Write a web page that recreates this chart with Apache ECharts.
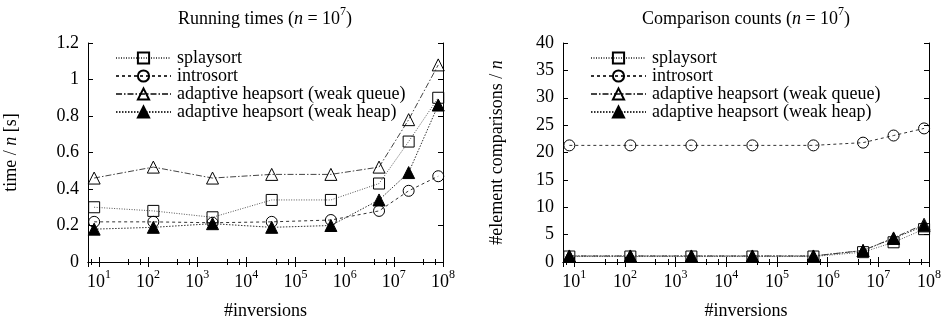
<!DOCTYPE html>
<html>
<head>
<meta charset="utf-8">
<script src="https://cdn.jsdelivr.net/npm/echarts@6/dist/echarts.min.js"></script>
<style>
html,body{margin:0;padding:0;background:#fff;}
#c{width:951px;height:325px;}
</style>
</head>
<body>
<div id="c"></div>
<script>
// ---- data ----
var inversions = [8, 128, 2048, 32768, 524288, 5000000, 20000000, 80000000];
var seriesNames = ['splaysort', 'introsort', 'adaptive heapsort (weak queue)', 'adaptive heapsort (weak heap)'];
// Running times: time / n [s]
var timeSplay   = [0.30, 0.28, 0.245, 0.34, 0.34, 0.43, 0.66, 0.90];
var timeIntro   = [0.22, 0.22, 0.215, 0.22, 0.23, 0.28, 0.39, 0.47];
var timeWQueue  = [0.46, 0.52, 0.46, 0.48, 0.48, 0.52, 0.78, 1.08];
var timeWHeap   = [0.18, 0.19, 0.21, 0.19, 0.20, 0.34, 0.49, 0.86];
// Comparison counts: #element comparisons / n
var cmpSplay    = [1.0, 1.0, 1.0, 1.0, 1.0, 1.8, 3.6, 6.0];
var cmpIntro    = [21.3, 21.3, 21.3, 21.3, 21.3, 21.8, 23.1, 24.4];
var cmpWQueue   = [1.1, 1.1, 1.1, 1.1, 1.1, 2.1, 4.4, 6.9];
var cmpWHeap    = [1.1, 1.1, 1.1, 1.1, 1.1, 2.1, 4.3, 6.6];
var yTicksTime  = [0, 0.2, 0.4, 0.6, 0.8, 1.0, 1.2];
var yTicksCmp   = [0, 5, 10, 15, 20, 25, 30, 35, 40];

var FONT = '"Liberation Serif", "Times New Roman", "DejaVu Serif", serif';

function pairs(ys) { return inversions.map(function (x, i) { return [x, ys[i]]; }); }

var supRich = {
  b: { fontSize: 18, fontFamily: FONT, fontWeight: 'normal', color: '#000', lineHeight: 18, verticalAlign: 'bottom' },
  s: { fontSize: 12, fontFamily: FONT, fontWeight: 'normal', color: '#000', verticalAlign: 'top', padding: [0, 0, 10, 0] },
  i: { fontSize: 18, fontFamily: FONT, fontWeight: 'normal', color: '#000', fontStyle: 'italic', lineHeight: 18, verticalAlign: 'bottom' }
};

function logFmt(v) {
  var l = Math.log10(v);
  var e = Math.round(l);
  if (Math.abs(l - e) > 1e-6) return '';
  return '{b|10}{s|' + e + '}';
}

var styles = [
  { symbol: 'rect', size: 11, fill: 'rgba(255,255,255,0)', dash: [1, 1.5], color: '#555' },
  { symbol: 'circle', size: 11, fill: 'rgba(255,255,255,0)', dash: [3, 3], color: '#333' },
  { symbol: 'triangle', size: 12, fill: 'rgba(255,255,255,0)', dash: [6, 2, 1.5, 2], color: '#444' },
  { symbol: 'triangle', size: 12, fill: '#000', dash: [1.5, 1.5], color: '#333' }
];

function mkXAxis(gi, top) {
  return {
    type: 'log', gridIndex: gi, min: 6, max: 1e8, logBase: 10, splitNumber: 8,
    position: top ? 'top' : 'bottom',
    axisLine: { show: true, lineStyle: { color: '#000', width: 1 } },
    axisTick: { show: true, inside: true, length: 5, lineStyle: { color: '#000' } },
    minorTick: { show: true, splitNumber: 3, length: 3, lineStyle: { color: '#000' } },
    splitLine: { show: false },
    axisLabel: top ? { show: false } : { show: true, margin: 7, formatter: logFmt, rich: supRich },
    name: top ? '' : '#inversions',
    nameLocation: 'middle', nameGap: 40,
    nameTextStyle: { fontSize: 18, fontFamily: FONT, color: '#000' }
  };
}

function mkYAxis(gi, right, ticks, name, gap) {
  return {
    type: 'value', gridIndex: gi, min: ticks[0], max: ticks[ticks.length - 1],
    interval: ticks[1] - ticks[0],
    position: right ? 'right' : 'left',
    axisLine: { show: true, lineStyle: { color: '#000', width: 1 } },
    axisTick: { show: true, inside: true, length: 5, lineStyle: { color: '#000' } },
    splitLine: { show: false },
    axisLabel: right ? { show: false } : {
      show: true, margin: 9, fontSize: 18, fontFamily: FONT, color: '#000',
      formatter: function (v) { return String(Math.round(v * 100) / 100); }
    },
    name: right ? '' : name,
    nameLocation: 'middle', nameGap: gap,
    nameTextStyle: { fontSize: 18, fontFamily: FONT, color: '#000', rich: supRich }
  };
}

function mkSeries(gi, arrs) {
  return arrs.map(function (ys, k) {
    var st = styles[k];
    return {
      type: 'line', name: seriesNames[k],
      xAxisIndex: gi * 2, yAxisIndex: gi * 2,
      data: pairs(ys),
      symbol: st.symbol, symbolSize: st.size, showAllSymbol: true,
      lineStyle: { color: st.color, width: 1, type: st.dash },
      itemStyle: { color: st.fill, borderColor: '#000', borderWidth: 1 },
      emphasis: { disabled: true },
      animation: false, z: 2 + k
    };
  });
}

function mkLegend(left) {
  return {
    orient: 'vertical', left: left, top: 44, itemWidth: 55, itemHeight: 14, itemGap: 0,
    data: seriesNames, selectedMode: false,
    textStyle: { fontSize: 18, fontFamily: FONT, color: '#000', lineHeight: 17, padding: [0, 0, 0, 1] }
  };
}

var chart = echarts.init(document.getElementById('c'), null, { renderer: 'canvas' });
chart.setOption({
  animation: false,
  backgroundColor: '#fff',
  title: [
    { text: '{b|Running times (}{i|n}{b| = 10}{s|7}{b|)}', left: 265, top: 6, textAlign: 'center', padding: 0,
      textStyle: { fontWeight: 'normal', rich: supRich } },
    { text: '{b|Comparison counts (}{i|n}{b| = 10}{s|7}{b|)}', left: 746, top: 6, textAlign: 'center', padding: 0,
      textStyle: { fontWeight: 'normal', rich: supRich } }
  ],
  grid: [
    { left: 88, right: 508, top: 43, bottom: 61 },
    { left: 563, right: 22, top: 43, bottom: 61 }
  ],
  xAxis: [mkXAxis(0, false), mkXAxis(0, true), mkXAxis(1, false), mkXAxis(1, true)],
  yAxis: [
    mkYAxis(0, false, yTicksTime, '{b|time / }{i|n}{b| [s]}', 68),
    mkYAxis(0, true, yTicksTime, '', 0),
    mkYAxis(1, false, yTicksCmp, '{b|#element comparisons / }{i|n}', 57),
    mkYAxis(1, true, yTicksCmp, '', 0)
  ],
  legend: [mkLegend(110), mkLegend(585)],
  series: mkSeries(0, [timeSplay, timeIntro, timeWQueue, timeWHeap])
    .concat(mkSeries(1, [cmpSplay, cmpIntro, cmpWQueue, cmpWHeap]))
});
</script>
</body>
</html>
